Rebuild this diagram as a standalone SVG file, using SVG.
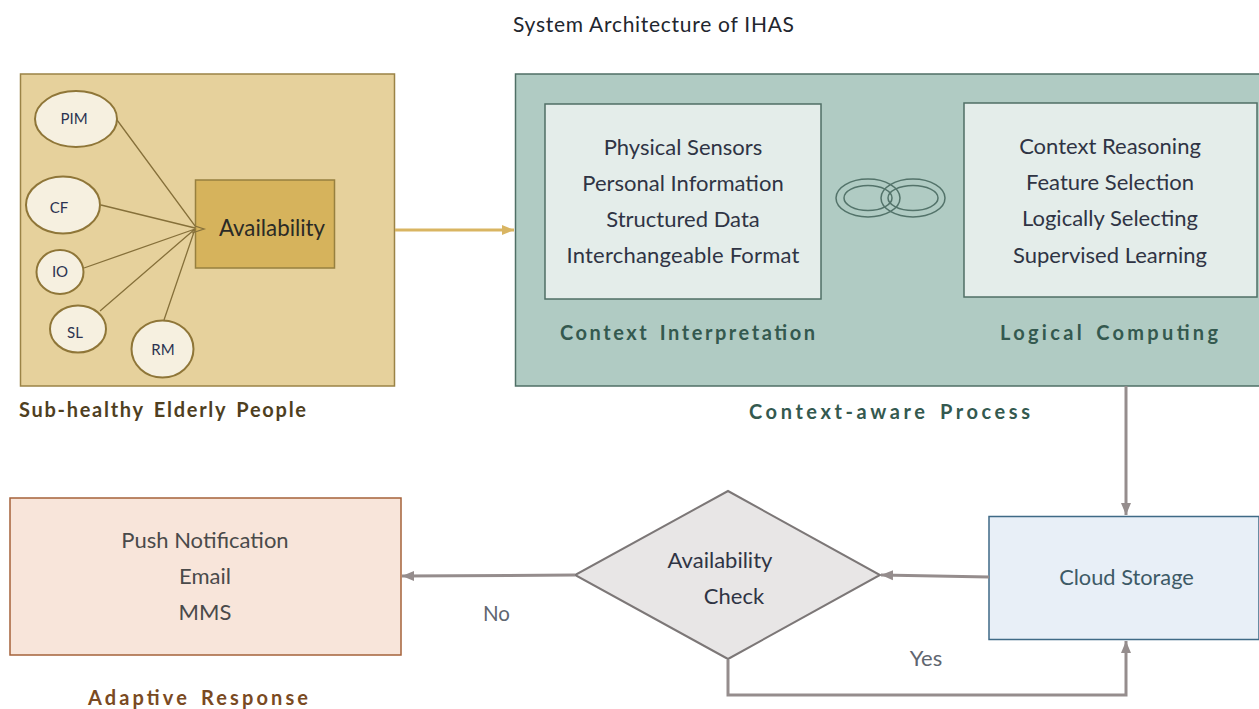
<svg xmlns="http://www.w3.org/2000/svg" width="1259" height="709" viewBox="0 0 1259 709">
<style>
text{font-family:Lato,"Open Sans","Liberation Sans",sans-serif;text-anchor:middle}
.t{font-size:22px;fill:#2f3444}
.s{font-size:15px;fill:#2b3350}
.h{font-size:20px;font-weight:700;word-spacing:3px}
.g{fill:#34594f}
.e{fill:#f6f0e0;stroke:#8f7638;stroke-width:2}
.l{fill:none;stroke:#86703a;stroke-width:1.3}
.c{fill:none;stroke:#958d8d;stroke-width:3}
.r{fill:none;stroke:#53736a;stroke-width:1.5}
</style>
<defs>
<marker id="a" markerUnits="userSpaceOnUse" markerWidth="14" markerHeight="12" refX="12" refY="6" orient="auto"><path d="M0 1L12 6L0 11Z" fill="#958d8d"/></marker>
<marker id="y" markerUnits="userSpaceOnUse" markerWidth="14" markerHeight="12" refX="12" refY="6" orient="auto"><path d="M0 1L12 6L0 11Z" fill="#d9b562"/></marker>
</defs>
<rect width="1259" height="709" fill="#fff"/>
<text id="title" x="653.500" y="32" textLength="281" style="font-size:21px;fill:#22262e">System Architecture of IHAS</text>
<g id="elderly">
<rect x="20.500" y="74" width="374" height="312" fill="#e6d19c" stroke="#9b8346" stroke-width="1.500"/>
<text class="h" x="162.500" y="417" textLength="287" fill="#4f3f1f">Sub-healthy Elderly People</text>
</g>
<g id="availability"><rect x="195.500" y="180" width="139" height="88" fill="#d6b35c" stroke="#97803f" stroke-width="1.500"/><text x="272" y="236" style="font-size:22.300px;fill:#2a2a26">Availability</text></g>
<g id="pim"><ellipse cx="76" cy="119" rx="41" ry="28" class="e"/><text class="s" x="74" y="124">PIM</text></g>
<g id="cf"><ellipse cx="63" cy="205" rx="37" ry="28.500" class="e"/><text class="s" x="59" y="213">CF</text></g>
<g id="io"><ellipse cx="60" cy="272" rx="23.500" ry="22" class="e"/><text class="s" x="60" y="277">IO</text></g>
<g id="sl"><ellipse cx="78" cy="329" rx="28" ry="23.500" class="e"/><text class="s" x="75" y="338">SL</text></g>
<g id="rm"><ellipse cx="162.500" cy="349" rx="31" ry="28.500" class="e"/><text class="s" x="163" y="355">RM</text></g>
<g id="context-aware">
<rect x="515.500" y="74" width="760" height="312" fill="#b0cbc3" stroke="#4f6f66" stroke-width="1.500"/>
<text class="h g" x="889.500" y="419" textLength="281">Context-aware Process</text>
</g>
<g id="context-interpretation">
<rect x="545" y="104" width="276" height="195" fill="#e4edea" stroke="#4f6f66" stroke-width="1.500"/>
<text class="t" x="683" y="155">Physical Sensors</text>
<text class="t" x="683" y="191">Personal Information</text>
<text class="t" x="683" y="227">Structured Data</text>
<text class="t" x="683" y="263" textLength="233">Interchangeable Format</text>
<text class="h g" x="687.500" y="340" textLength="255">Context Interpretation</text>
</g>
<g id="logical-computing">
<rect x="964" y="103" width="293" height="194" fill="#e4edea" stroke="#4f6f66" stroke-width="1.500"/>
<text class="t" x="1110" y="154">Context Reasoning</text>
<text class="t" x="1110" y="190">Feature Selection</text>
<text class="t" x="1110" y="226">Logically Selecting</text>
<text class="t" x="1110" y="263">Supervised Learning</text>
<text class="h g" x="1109" y="340" textLength="218">Logical Computing</text>
</g>
<g id="link">
<ellipse cx="868" cy="198" rx="32" ry="19" class="r"/><ellipse cx="868" cy="198" rx="24" ry="12.500" class="r"/>
<ellipse cx="913" cy="198" rx="32" ry="19" class="r"/><ellipse cx="913" cy="198" rx="25" ry="12.500" class="r"/>
</g>
<g id="cloud"><rect x="989" y="516.500" width="270" height="123" fill="#e8eff7" stroke="#3f6a86" stroke-width="1.500"/><text x="1126.500" y="585" style="font-size:21.800px;fill:#3d5a66">Cloud Storage</text></g>
<g id="check"><path d="M728 491L880 575L728 659L575 575Z" fill="#e8e6e6" stroke="#7c7777" stroke-width="2"/>
<text x="720" y="568" style="font-size:22px;fill:#2f3444">Availability</text><text x="734" y="604" style="font-size:22px;fill:#2f3444">Check</text></g>
<g id="response"><rect x="10" y="498" width="391" height="157" fill="#f8e5da" stroke="#a5623a" stroke-width="1.500"/>
<text class="t" x="205" y="548" style="fill:#4a4a4a">Push Notification</text><text class="t" x="205" y="584" style="fill:#4a4a4a">Email</text><text class="t" x="205" y="620" style="fill:#4a4a4a">MMS</text>
<text class="h" x="198" y="705" textLength="220" fill="#7a4a22">Adaptive Response</text></g>
<g id="connectors">
<path class="l" d="M117 120L195 226L204 229L192 233"/>
<path class="l" d="M101 205L195 228M84 268L195 229M100 311L195 229M164 320L195 229"/>
<path d="M395 230H514" fill="none" stroke="#d9b562" stroke-width="3" marker-end="url(#y)"/>
<path class="c" d="M1126 386V515" marker-end="url(#a)"/>
<path class="c" d="M989 577L881 575" marker-end="url(#a)"/>
<path class="c" d="M575 575L402 576" marker-end="url(#a)"/>
<path class="c" d="M728 660V695H1126V641" marker-end="url(#a)"/>
</g>
<text id="no" x="496.500" y="621" style="font-size:20.500px;fill:#5f6670">No</text>
<text id="yes" x="926" y="666" style="font-size:22px;fill:#5f6670">Yes</text>
</svg>
